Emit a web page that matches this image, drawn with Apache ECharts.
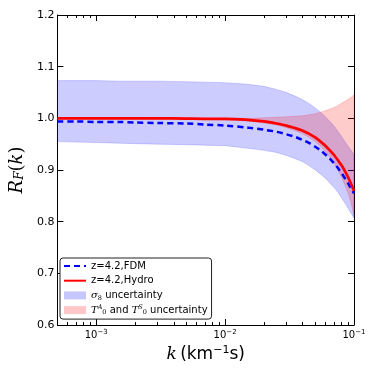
<!DOCTYPE html>
<html>
<head>
<meta charset="utf-8">
<script src="https://cdn.jsdelivr.net/npm/echarts@6/dist/echarts.min.js"></script>
<style>
  html, body { margin: 0; padding: 0; background: #fff; }
  #chart { width: 374px; height: 374px; }
</style>
</head>
<body>
<div id="chart"></div>
<script>
// k in km^-1 s
const kValues = [5e-4, 7e-4, 1e-3, 1.5e-3, 2e-3, 3e-3, 5e-3, 7e-3, 1e-2, 1.5e-2, 2e-2, 2.5e-2, 3e-2, 3.5e-2,
  4e-2, 4.5e-2, 5e-2, 5.5e-2, 6e-2, 6.5e-2, 7e-2, 7.5e-2, 8e-2, 8.5e-2, 9e-2, 9.5e-2, 1e-1];

// z=4.2 curves
const fdm   = [0.994, 0.994, 0.993, 0.993, 0.992, 0.991, 0.990, 0.988, 0.986, 0.982, 0.978, 0.974, 0.969, 0.964,
  0.958, 0.952, 0.945, 0.938, 0.930, 0.922, 0.913, 0.904, 0.894, 0.884, 0.874, 0.864, 0.855];
const hydro = [1.000, 1.000, 1.000, 1.000, 1.000, 1.000, 0.9995, 0.999, 0.999, 0.997, 0.994, 0.990, 0.986, 0.981,
  0.976, 0.970, 0.963, 0.955, 0.947, 0.938, 0.929, 0.919, 0.909, 0.898, 0.886, 0.873, 0.860];

// sigma_8 band
const sigmaHigh = [1.073, 1.073, 1.073, 1.072, 1.072, 1.072, 1.071, 1.070, 1.069, 1.066, 1.062, 1.056, 1.050, 1.043,
  1.036, 1.028, 1.020, 1.012, 1.003, 0.994, 0.985, 0.975, 0.965, 0.955, 0.946, 0.938, 0.930];
const sigmaLow  = [0.955, 0.954, 0.953, 0.952, 0.951, 0.950, 0.949, 0.948, 0.947, 0.942, 0.938, 0.934, 0.928, 0.922,
  0.916, 0.908, 0.900, 0.892, 0.884, 0.875, 0.866, 0.857, 0.846, 0.836, 0.826, 0.816, 0.807];

// T0^A and T0^S band
const thermHigh = [1.000, 1.000, 1.000, 1.000, 1.000, 1.000, 1.000, 1.000, 1.000, 1.000, 1.001, 1.002, 1.003, 1.004,
  1.005, 1.007, 1.009, 1.012, 1.015, 1.018, 1.021, 1.025, 1.029, 1.033, 1.037, 1.041, 1.045];
const thermLow  = [1.000, 1.000, 1.000, 1.000, 1.000, 0.999, 0.999, 0.998, 0.997, 0.995, 0.991, 0.987, 0.982, 0.976,
  0.970, 0.963, 0.955, 0.946, 0.936, 0.925, 0.913, 0.900, 0.886, 0.871, 0.855, 0.836, 0.810];

const xMinorTicks = [6e-4, 7e-4, 8e-4, 9e-4,
  2e-3, 3e-3, 4e-3, 5e-3, 6e-3, 7e-3, 8e-3, 9e-3,
  2e-2, 3e-2, 4e-2, 5e-2, 6e-2, 7e-2, 8e-2, 9e-2];

const legendLabels = {
  fdm: 'z=4.2,FDM',
  hydro: 'z=4.2,Hydro',
  sigma: '{i|σ}{sub|8} uncertainty',
  therm: '{i|T}{sup|A}{sub|0} and {i|T}{sup|S}{sub|0} uncertainty'
};

const xMin = 5e-4, xMax = 0.1;

var chart = echarts.init(document.getElementById('chart'), null, { renderer: 'canvas' });

function bandRenderer(low, high, color) {
  return function (params, api) {
    if (params.dataIndex !== 0) return null;
    let pts = [];
    for (let i = 0; i < kValues.length; i++) pts.push(api.coord([kValues[i], high[i]]));
    for (let i = kValues.length - 1; i >= 0; i--) pts.push(api.coord([kValues[i], low[i]]));
    return {
      type: 'polygon',
      shape: { points: pts },
      style: { fill: color, stroke: color, lineWidth: 0.8 }
    };
  };
}

function pairs(ys) {
  return kValues.map((k, i) => [k, ys[i]]);
}

const tickColor = '#000';
const majorTick = { show: true, inside: true, length: 6, lineStyle: { color: tickColor, width: 1 } };
const minorTickStyle = { show: true, inside: true, length: 3, lineStyle: { color: tickColor, width: 1 } };
const supRich = {
  base: { fontSize: 10, fontFamily: 'DejaVu Sans', color: '#000' },
  sup: { fontSize: 7, fontFamily: 'DejaVu Sans', color: '#000', verticalAlign: 'top', padding: [0, 0, 5, 0] }
};

var option = {
  animation: false,
  backgroundColor: '#fff',
  grid: { left: 55.5, right: 20, top: 15, bottom: 49 },
  xAxis: [
    {
      type: 'log', logBase: 10, min: xMin, max: xMax, position: 'bottom',
      name: '{i|k} {t|(km}{sup|−1}{t|s)}',
      nameLocation: 'middle', nameGap: 17,
      nameTextStyle: {
        rich: {
          i: { fontFamily: 'DejaVu Serif', fontStyle: 'italic', fontSize: 17, color: '#000' },
          t: { fontFamily: 'DejaVu Sans', fontSize: 17, color: '#000' },
          sup: { fontFamily: 'DejaVu Sans', fontSize: 11, color: '#000', verticalAlign: 'top', padding: [0, 0, 9, 0] }
        }
      },
      axisLine: { show: true, lineStyle: { color: '#000', width: 1 } },
      axisTick: majorTick,
      axisLabel: {
        showMinLabel: false, margin: 4,
        formatter: function (v) {
          let e = Math.round(Math.log10(v));
          return '{base|10}{sup|' + String(e).replace('-', '−') + '}';
        },
        rich: supRich
      },
      splitLine: { show: false }
    },
    {
      type: 'value', min: Math.log10(xMin), max: Math.log10(xMax), position: 'bottom',
      axisLine: { show: false },
      axisTick: Object.assign({ customValues: xMinorTicks.map(Math.log10) }, minorTickStyle),
      axisLabel: { show: false },
      splitLine: { show: false }
    },
    {
      type: 'log', logBase: 10, min: xMin, max: xMax, position: 'top',
      axisLine: { show: true, lineStyle: { color: '#000', width: 1 } },
      axisTick: majorTick,
      axisLabel: { show: false },
      splitLine: { show: false }
    },
    {
      type: 'value', min: Math.log10(xMin), max: Math.log10(xMax), position: 'top',
      axisLine: { show: false },
      axisTick: Object.assign({ customValues: xMinorTicks.map(Math.log10) }, minorTickStyle),
      axisLabel: { show: false },
      splitLine: { show: false }
    }
  ],
  yAxis: [
    {
      type: 'value', min: 0.6, max: 1.2, interval: 0.1, position: 'left',
      name: '{i|R}{s|F}{p|(}{i|k}{p|)}',
      nameLocation: 'middle', nameGap: 28, nameRotate: 90,
      nameTextStyle: {
        rich: {
          i: { fontFamily: 'DejaVu Serif', fontStyle: 'italic', fontSize: 18, color: '#000' },
          s: { fontFamily: 'DejaVu Serif', fontStyle: 'italic', fontSize: 12, color: '#000', verticalAlign: 'bottom', padding: [6, 0, 0, 0] },
          p: { fontFamily: 'DejaVu Serif', fontSize: 18, color: '#000' }
        }
      },
      axisLine: { show: true, lineStyle: { color: '#000', width: 1 } },
      axisTick: majorTick,
      axisLabel: {
        margin: 3, fontSize: 11, fontFamily: 'DejaVu Sans', color: '#000',
        formatter: v => v.toFixed(1)
      },
      splitLine: { show: false }
    },
    {
      type: 'value', min: 0.6, max: 1.2, interval: 0.1, position: 'right',
      axisLine: { show: true, lineStyle: { color: '#000', width: 1 } },
      axisTick: majorTick,
      axisLabel: { show: false },
      splitLine: { show: false }
    }
  ],
  legend: {
    orient: 'vertical', left: 60, top: 258,
    padding: [2, 4, 3, 3], itemGap: 2.7, itemWidth: 22, itemHeight: 8,
    backgroundColor: '#fff', borderColor: '#222', borderWidth: 1, borderRadius: 3,
    data: [
      { name: 'fdm', itemStyle: { opacity: 0 } },
      { name: 'hydro', itemStyle: { opacity: 0 } },
      { name: 'sigma', icon: 'rect', itemStyle: { color: 'rgba(0,0,255,0.22)' } },
      { name: 'therm', icon: 'rect', itemStyle: { color: 'rgba(255,0,0,0.22)' } }
    ],
    formatter: n => legendLabels[n],
    textStyle: {
      fontSize: 10, fontFamily: 'DejaVu Sans', color: '#000', lineHeight: 12,
      rich: {
        i: { fontFamily: 'DejaVu Serif', fontStyle: 'italic', fontSize: 10, color: '#000' },
        sub: { fontSize: 6.5, fontFamily: 'DejaVu Serif', color: '#000', verticalAlign: 'bottom', padding: [4, 0, 0, 0] },
        sup: { fontSize: 6.5, fontFamily: 'DejaVu Serif', fontStyle: 'italic', color: '#000', verticalAlign: 'top', padding: [0, 0, 4, 0] }
      }
    }
  },
  series: [
    {
      name: 'sigma', type: 'custom', coordinateSystem: 'cartesian2d',
      xAxisIndex: 0, yAxisIndex: 0, silent: true,
      itemStyle: { color: 'rgba(0,0,255,0.2)' },
      renderItem: bandRenderer(sigmaLow, sigmaHigh, 'rgba(0,0,255,0.2)'),
      data: pairs(sigmaLow), z: 1
    },
    {
      name: 'therm', type: 'custom', coordinateSystem: 'cartesian2d',
      xAxisIndex: 0, yAxisIndex: 0, silent: true,
      itemStyle: { color: 'rgba(255,0,0,0.2)' },
      renderItem: bandRenderer(thermLow, thermHigh, 'rgba(255,0,0,0.2)'),
      data: pairs(thermLow), z: 2
    },
    {
      name: 'fdm', type: 'line', xAxisIndex: 0, yAxisIndex: 0,
      data: pairs(fdm), symbol: 'none', smooth: 0.3, z: 3,
      itemStyle: { color: '#0000ff' },
      lineStyle: { color: '#0000ff', width: 2.5, type: [6, 4] }
    },
    {
      name: 'hydro', type: 'line', xAxisIndex: 0, yAxisIndex: 0,
      data: pairs(hydro), symbol: 'none', smooth: 0.3, z: 4,
      itemStyle: { color: '#ff0000' },
      lineStyle: { color: '#ff0000', width: 2.7 }
    }
  ]
};

chart.setOption(option);
</script>
</body>
</html>
